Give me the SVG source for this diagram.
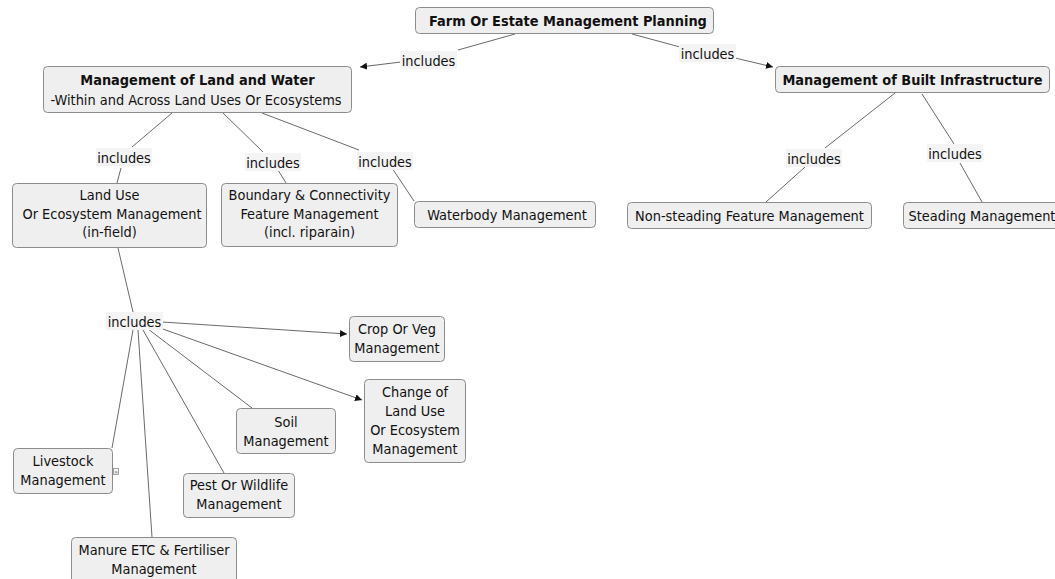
<svg xmlns="http://www.w3.org/2000/svg" width="1055" height="579" viewBox="0 0 1055 579">
  <style>
    .box { fill: #efefef; stroke: #8c8c8c; stroke-width: 1; }
    .t { font-family: "DejaVu Sans Condensed", "DejaVu Sans", Verdana, sans-serif; font-stretch: condensed; font-size: 14.4px; fill: #111; text-anchor: middle; }
    .b { font-weight: bold; }
    .lbl { fill: #f4f4f4; stroke: none; }
    .ln { stroke: #6a6a6a; stroke-width: 1; fill: none; }
  </style>
  <defs>
    <marker id="arr" viewBox="0 0 10 10" refX="10" refY="5" markerWidth="7" markerHeight="7" markerUnits="userSpaceOnUse" orient="auto">
      <path d="M0,0 L10,5 L0,10 z" fill="#111"/>
    </marker>
  </defs>
  <rect width="1055" height="579" fill="#ffffff"/>

  <!-- connectors and their link labels -->
  <g id="connectors">
    <line class="ln" x1="515" y1="34" x2="458" y2="50"/>
    <line class="ln" x1="401" y1="62" x2="360" y2="67" marker-end="url(#arr)"/>
    <line class="ln" x1="632" y1="34" x2="680" y2="47"/>
    <line class="ln" x1="735" y1="58" x2="773" y2="67" marker-end="url(#arr)"/>

    <line class="ln" x1="172" y1="113" x2="132" y2="147"/>
    <line class="ln" x1="121" y1="168" x2="117" y2="183"/>
    <line class="ln" x1="223" y1="113" x2="263" y2="152"/>
    <line class="ln" x1="278" y1="170" x2="286" y2="183"/>
    <line class="ln" x1="262" y1="113" x2="359" y2="150"/>
    <line class="ln" x1="392" y1="168" x2="414" y2="201"/>

    <line class="ln" x1="895" y1="93" x2="825" y2="148"/>
    <line class="ln" x1="805" y1="167" x2="766" y2="202"/>
    <line class="ln" x1="922" y1="94" x2="954" y2="144"/>
    <line class="ln" x1="960" y1="163" x2="982" y2="202"/>

    <line class="ln" x1="118" y1="248" x2="133" y2="312"/>
    <line class="ln" x1="162" y1="322" x2="347" y2="334" marker-end="url(#arr)"/>
    <line class="ln" x1="160" y1="328" x2="362" y2="400" marker-end="url(#arr)"/>
    <line class="ln" x1="148" y1="329" x2="252" y2="408"/>
    <line class="ln" x1="143" y1="330" x2="224" y2="473"/>
    <line class="ln" x1="138" y1="330" x2="152" y2="537"/>
    <line class="ln" x1="133" y1="330" x2="112" y2="448"/>

    <rect class="lbl" x="400" y="51" width="57" height="18"/>
    <text class="t" x="428.5" y="65.5">includes</text>
    <rect class="lbl" x="679" y="44" width="57" height="18"/>
    <text class="t" x="707.5" y="58.5">includes</text>
    <rect class="lbl" x="96" y="148" width="56" height="18"/>
    <text class="t" x="124" y="162.5">includes</text>
    <rect class="lbl" x="245" y="153" width="56" height="18"/>
    <text class="t" x="273" y="167.5">includes</text>
    <rect class="lbl" x="357" y="152" width="56" height="18"/>
    <text class="t" x="385" y="166.5">includes</text>
    <rect class="lbl" x="786" y="149" width="56" height="18"/>
    <text class="t" x="814" y="163.5">includes</text>
    <rect class="lbl" x="927" y="144" width="56" height="18"/>
    <text class="t" x="955" y="158.5">includes</text>
    <rect class="lbl" x="106" y="312" width="57" height="18"/>
    <text class="t" x="134.5" y="326.5">includes</text>
  </g>

  <g id="farm-planning">
    <rect class="box" x="415.5" y="7.5" width="298" height="26" rx="4"/>
    <text class="t b" x="568" y="26">Farm Or Estate Management Planning</text>
  </g>

  <g id="land-water">
    <rect class="box" x="43.5" y="66.5" width="308" height="46" rx="4"/>
    <text class="t b" x="197.5" y="84.5">Management of Land and Water</text>
    <text class="t" x="196" y="104.5">-Within and Across Land Uses Or Ecosystems</text>
  </g>

  <g id="built-infrastructure">
    <rect class="box" x="775.5" y="66.5" width="274" height="26" rx="4"/>
    <text class="t b" x="912.5" y="85">Management of Built Infrastructure</text>
  </g>

  <g id="land-use">
    <rect class="box" x="12.5" y="183.5" width="194" height="64" rx="4"/>
    <text class="t" x="109.5" y="199.5">Land Use</text>
    <text class="t" x="112" y="218.5">Or Ecosystem Management</text>
    <text class="t" x="109.5" y="237">(in-field)</text>
  </g>

  <g id="boundary">
    <rect class="box" x="221.5" y="183.5" width="176" height="63" rx="4"/>
    <text class="t" x="309.5" y="199.5">Boundary &amp; Connectivity</text>
    <text class="t" x="309.5" y="218.5">Feature Management</text>
    <text class="t" x="309.5" y="237">(incl. riparain)</text>
  </g>

  <g id="waterbody">
    <rect class="box" x="414.5" y="201.5" width="181" height="26" rx="4"/>
    <text class="t" x="507" y="219.5">Waterbody Management</text>
  </g>

  <g id="non-steading">
    <rect class="box" x="627.5" y="202.5" width="244" height="26" rx="4"/>
    <text class="t" x="749.5" y="220.5">Non-steading Feature Management</text>
  </g>

  <g id="steading">
    <rect class="box" x="903.5" y="202.5" width="160" height="26" rx="4"/>
    <text class="t" x="982" y="220.5">Steading Management</text>
  </g>

  <g id="crop-veg">
    <rect class="box" x="349.5" y="316.5" width="95" height="45" rx="4"/>
    <text class="t" x="397" y="333.5">Crop Or Veg</text>
    <text class="t" x="397" y="352.5">Management</text>
  </g>

  <g id="change-land-use">
    <rect class="box" x="364.5" y="379.5" width="101" height="83" rx="4"/>
    <text class="t" x="415" y="396.5">Change of</text>
    <text class="t" x="415" y="415.5">Land Use</text>
    <text class="t" x="415" y="435">Or Ecosystem</text>
    <text class="t" x="415" y="454">Management</text>
  </g>

  <g id="soil">
    <rect class="box" x="236.5" y="408.5" width="99" height="45" rx="4"/>
    <text class="t" x="286" y="427">Soil</text>
    <text class="t" x="286" y="445.5">Management</text>
  </g>

  <g id="livestock">
    <rect class="box" x="13.5" y="448.5" width="99" height="45" rx="4"/>
    <text class="t" x="63" y="466">Livestock</text>
    <text class="t" x="63" y="485">Management</text>
    <rect x="113.5" y="468.5" width="5" height="6" fill="#f4f4f4" stroke="#8c8c8c" stroke-width="0.8"/>
    <text x="116" y="474" font-family="DejaVu Sans, sans-serif" font-size="6" text-anchor="middle" fill="#333">»</text>
  </g>

  <g id="pest-wildlife">
    <rect class="box" x="183.5" y="473.5" width="111" height="44" rx="4"/>
    <text class="t" x="239" y="490">Pest Or Wildlife</text>
    <text class="t" x="239" y="509">Management</text>
  </g>

  <g id="manure-fertiliser">
    <rect class="box" x="71.5" y="537.5" width="165" height="50" rx="4"/>
    <text class="t" x="154" y="554.5">Manure ETC &amp; Fertiliser</text>
    <text class="t" x="154" y="573.5">Management</text>
  </g>
</svg>
